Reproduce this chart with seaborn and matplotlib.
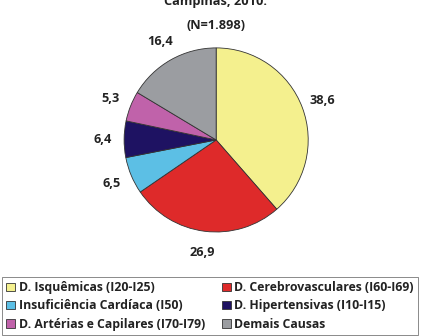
import matplotlib
matplotlib.use("Agg")
import matplotlib.pyplot as plt
import seaborn as sns

categories = [
    "D. Isquêmicas (I20-I25)",
    "D. Cerebrovasculares (I60-I69)",
    "Insuficiência Cardíaca (I50)",
    "D. Hipertensivas (I10-I15)",
    "D. Artérias e Capilares (I70-I79)",
    "Demais Causas",
]
values = [38.6, 26.9, 6.5, 6.4, 5.3, 16.4]
value_labels = ["38,6", "26,9", "6,5", "6,4", "5,3", "16,4"]
colors = ["#F4F08E", "#DE2A2A", "#5CBFE5", "#1E1262", "#C062AA", "#9B9DA1"]

sns.set_theme(style="white")
plt.rcParams["font.family"] = ["Open Sans", "DejaVu Sans"]

fig = plt.figure(figsize=(4.23, 3.36), dpi=100)
ax = fig.add_axes([0.239, 0.241, 0.544, 0.685])

wedges, texts = ax.pie(
    values,
    labels=value_labels,
    colors=colors,
    startangle=90,
    counterclock=False,
    labeldistance=1.23,
    wedgeprops=dict(edgecolor="#333333", linewidth=0.6),
    textprops=dict(fontsize=9.2, fontweight="bold", color="#222222"),
)
for t in texts:
    t.set_horizontalalignment("center")
    t.set_verticalalignment("center")
ax.set_aspect("equal")

fig.text(0.51, 0.995, "Campinas, 2010.", ha="center", va="center",
         fontsize=9.2, fontweight="bold", color="#222222")
fig.text(0.51, 0.925, "(N=1.898)", ha="center", va="center",
         fontsize=9.2, fontweight="bold", color="#222222")

# legend reads row by row: reorder entries for matplotlib's column-wise fill
order = [0, 2, 4, 1, 3, 5]
leg = fig.legend(
    [wedges[i] for i in order], [categories[i] for i in order],
    loc="upper left",
    bbox_to_anchor=(0.005, 1 - 277 / 336),
    ncol=2,
    fontsize=8.8,
    frameon=True,
    fancybox=False,
    edgecolor="#555555",
    handlelength=0.7,
    handleheight=0.7,
    handletextpad=0.3,
    columnspacing=1.4,
    labelspacing=0.42,
    borderpad=0.35,
    borderaxespad=0.0,
)
leg.get_frame().set_linewidth(0.6)
for t in leg.get_texts():
    t.set_fontweight("bold")
    t.set_color("#222222")

fig.savefig("out.png", dpi=100)
